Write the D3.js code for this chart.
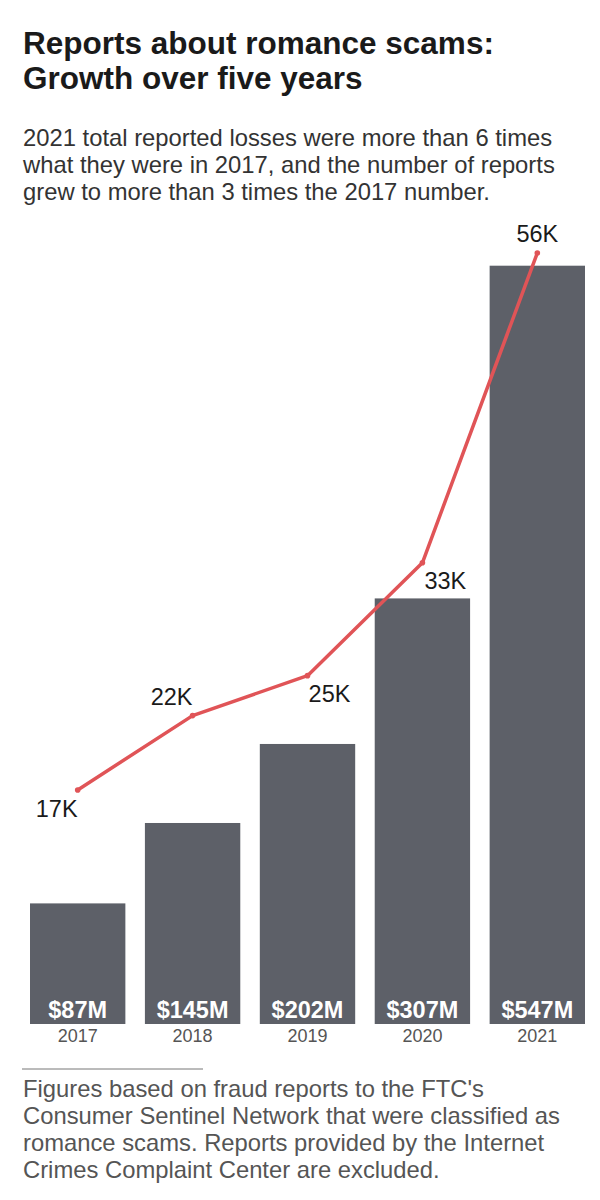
<!DOCTYPE html>
<html>
<head>
<meta charset="utf-8">
<script src="https://cdn.jsdelivr.net/npm/d3@7"></script>
<style>
  html, body { margin: 0; padding: 0; background: #fff; }
  svg { display: block; font-family: "Liberation Sans", Arial, sans-serif; }
</style>
</head>
<body>
<svg id="chart" width="600" height="1200"></svg>
<script>
const years = ["2017", "2018", "2019", "2020", "2021"];
const losses = [87, 145, 202, 307, 547];            // $ millions
const lossLabels = ["$87M", "$145M", "$202M", "$307M", "$547M"];
const reports = [17.0, 22.4, 25.3, 33.5, 56.0];      // thousands
const reportLabels = ["17K", "22K", "25K", "33K", "56K"];
const titleLines = ["Reports about romance scams:", "Growth over five years"];
const subtitleLines = [
  "2021 total reported losses were more than 6 times",
  "what they were in 2017, and the number of reports",
  "grew to more than 3 times the 2017 number."
];
const noteLines = [
  "Figures based on fraud reports to the FTC's",
  "Consumer Sentinel Network that were classified as",
  "romance scams. Reports provided by the Internet",
  "Crimes Complaint Center are excluded."
];

const svg = d3.select("#chart");

svg.append("g").selectAll("text").data(titleLines).join("text")
  .attr("x", 23).attr("y", (d, i) => 54 + i * 35)
  .attr("font-size", 31.5).attr("font-weight", "bold").attr("fill", "#1a1a1a")
  .text(d => d);

svg.append("g").selectAll("text").data(subtitleLines).join("text")
  .attr("x", 23).attr("y", (d, i) => 146 + i * 27)
  .attr("font-size", 23.8).attr("fill", "#333")
  .text(d => d);

const x = d3.scaleBand().domain(years).range([30, 585]).paddingInner(0.17);
const yLoss = d3.scaleLinear().domain([0, 547]).range([1024, 265.7]);
const yRep = d3.scaleLinear().domain([0, 56]).range([1024, 253]);

svg.append("g").selectAll("rect").data(years).join("rect")
  .attr("x", d => x(d)).attr("width", x.bandwidth())
  .attr("y", (d, i) => yLoss(losses[i]))
  .attr("height", (d, i) => yLoss(0) - yLoss(losses[i]))
  .attr("fill", "#5d6068");

svg.append("g").selectAll("text").data(years).join("text")
  .attr("x", d => x(d) + x.bandwidth() / 2).attr("y", 1018)
  .attr("text-anchor", "middle").attr("font-size", 23.5).attr("font-weight", "bold")
  .attr("fill", "#fff").text((d, i) => lossLabels[i]);

const xAxis = d3.axisBottom(x).tickSize(0).tickPadding(0);
const ax = svg.append("g").attr("transform", "translate(0,1024)").call(xAxis);
ax.select(".domain").remove();
ax.selectAll("text").attr("dy", null).attr("y", 18)
  .attr("font-size", 18).attr("fill", "#555")
  .attr("font-family", "'Liberation Sans', Arial, sans-serif");

const line = d3.line()
  .x((d, i) => x(years[i]) + x.bandwidth() / 2)
  .y(d => yRep(d));
svg.append("path").datum(reports).attr("d", line)
  .attr("fill", "none").attr("stroke", "#e05457").attr("stroke-width", 3.5)
  .attr("stroke-linejoin", "round").attr("stroke-linecap", "round");
svg.append("g").selectAll("circle").data(reports).join("circle")
  .attr("cx", (d, i) => x(years[i]) + x.bandwidth() / 2)
  .attr("cy", d => yRep(d)).attr("r", 2.8).attr("fill", "#e05457");

// label placements relative to points (dx, dy)
const labelPos = [[-21, 27, "middle"], [-21, -11, "middle"], [22, 26, "middle"], [23, 26, "middle"], [0, -11, "middle"]];
svg.append("g").selectAll("text").data(reports).join("text")
  .attr("x", (d, i) => x(years[i]) + x.bandwidth() / 2 + labelPos[i][0])
  .attr("y", (d, i) => yRep(d) + labelPos[i][1])
  .attr("text-anchor", (d, i) => labelPos[i][2])
  .attr("font-size", 23.5).attr("fill", "#1a1a1a")
  .text((d, i) => reportLabels[i]);

svg.append("line").attr("x1", 22).attr("x2", 203).attr("y1", 1069).attr("y2", 1069)
  .attr("stroke", "#777").attr("stroke-width", 1);

svg.append("g").selectAll("text").data(noteLines).join("text")
  .attr("x", 23).attr("y", (d, i) => 1097 + i * 27)
  .attr("font-size", 23.8).attr("fill", "#555")
  .text(d => d);
</script>
</body>
</html>
